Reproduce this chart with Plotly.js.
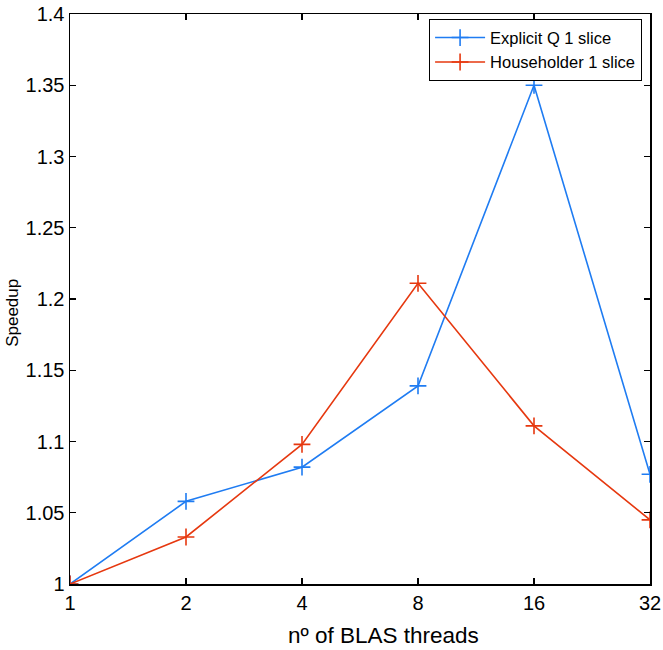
<!DOCTYPE html>
<html>
<head>
<meta charset="utf-8">
<script src="https://cdn.plot.ly/plotly-3.0.1.min.js"></script>
<style>html,body{margin:0;padding:0;background:#fff;}#chart{width:663px;height:650px;}</style>
</head>
<body>
<div id="chart"></div>
<script>
var threads = [1, 2, 4, 8, 16, 32];
var threadLabels = ['1', '2', '4', '8', '16', '32'];
var explicitQ = [1.0, 1.058, 1.082, 1.139, 1.350, 1.077];
var householder = [1.0, 1.033, 1.098, 1.211, 1.111, 1.045];
var yTicks = [1, 1.05, 1.1, 1.15, 1.2, 1.25, 1.3, 1.35, 1.4];
var yTickLabels = ['1', '1.05', '1.1', '1.15', '1.2', '1.25', '1.3', '1.35', '1.4'];
var xTitle = 'nº of BLAS threads';
var yTitle = 'Speedup';

var font = 'Liberation Sans, Arial, sans-serif';
var traces = [
  {x: threads, y: explicitQ, name: 'Explicit Q 1 slice', mode: 'lines+markers',
   line: {color: '#1f7cf2', width: 1.6},
   marker: {symbol: 'cross-thin-open', size: 12, line: {color: '#1f7cf2', width: 1.6}}},
  {x: threads, y: householder, name: 'Householder 1 slice', mode: 'lines+markers',
   line: {color: '#e6380f', width: 1.6},
   marker: {symbol: 'cross-thin-open', size: 12, line: {color: '#e6380f', width: 1.6}}}
];
var layout = {
  width: 663, height: 650,
  margin: {l: 70, r: 13, t: 14, b: 66},
  paper_bgcolor: '#fff', plot_bgcolor: '#fff',
  font: {family: font, color: '#000'},
  showlegend: true,
  legend: {x: 0.986, y: 0.991, xanchor: 'right', yanchor: 'top',
    bordercolor: '#000', borderwidth: 1.2, bgcolor: '#fff', itemwidth: 50,
    font: {size: 16.5, family: font}, tracegroupgap: 0},
  xaxis: {type: 'log', range: [0, Math.log10(32)], tickvals: threads, ticktext: threadLabels,
    ticks: 'inside', ticklen: 6, tickwidth: 1.2, tickcolor: '#000',
    showline: true, linecolor: '#000', linewidth: 1.5, mirror: 'ticks',
    showgrid: false, zeroline: false,
    tickfont: {size: 20, family: font}},
  yaxis: {range: [1, 1.4], tickvals: yTicks, ticktext: yTickLabels,
    ticks: 'inside', ticklen: 6, tickwidth: 1.2, tickcolor: '#000',
    showline: true, linecolor: '#000', linewidth: 1.5, mirror: 'ticks',
    showgrid: false, zeroline: false,
    tickfont: {size: 20, family: font}},
  annotations: [
    {text: xTitle, xref: 'paper', yref: 'paper', x: 0.5397, y: -0.0912,
     xanchor: 'center', yanchor: 'middle', showarrow: false,
     font: {size: 22.5, family: font, color: '#000'}},
    {text: yTitle, xref: 'paper', yref: 'paper', x: -0.099, y: 0.475,
     xanchor: 'center', yanchor: 'middle', showarrow: false, textangle: -90,
     font: {size: 17, family: font, color: '#000'}}
  ]
};
Plotly.newPlot('chart', traces, layout, {displayModeBar: false, staticPlot: true});
</script>
</body>
</html>
